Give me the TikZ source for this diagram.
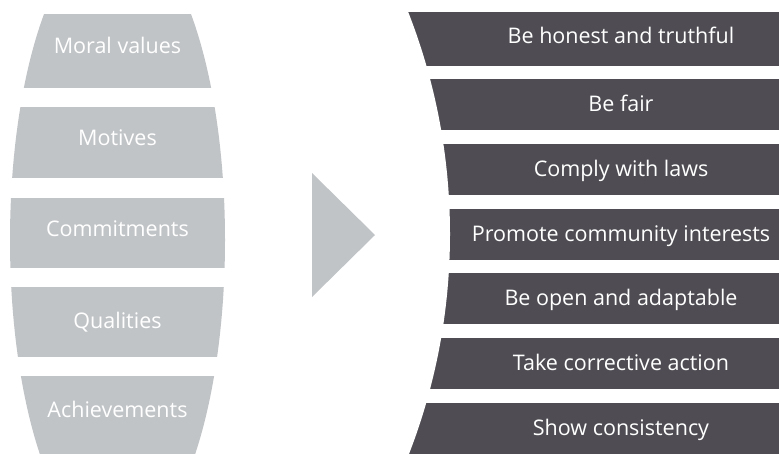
\documentclass[tikz,border=0pt]{standalone}
\usepackage{fontspec}
\setmainfont{Open Sans}
\definecolor{lightgrey}{HTML}{C1C4C7}
\definecolor{darkgrey}{HTML}{4F4D53}
\tikzset{
  barrel/.style={fill=lightgrey},
  bar/.style={fill=darkgrey},
  lbl/.style={text=white, inner sep=0pt, font=\fontsize{21.5}{24}\selectfont,
    text height=0.72em, text depth=0pt},
}

\begin{document}
\begin{tikzpicture}[x=1pt,y=-1pt]
  \useasboundingbox (0,0) rectangle (779,453);
  % Dark bars on the right
  \foreach \t/\b in {12/66,79/130,144/195,209/260,273/324,338/389,403/460}
    \fill[bar] (390,\t) rectangle (785,\b);
  % Round cut on their left ends
  \fill[white] (-158,234) circle[radius=608];
  % Barrel on the left
  \begin{scope}
    \clip (117.5,240) ellipse[x radius=107.5, y radius=309.6];
    \foreach \t/\b in {14/88,107/178,198/268,287/357,376/460}
      \fill[barrel] (0,\t) rectangle (240,\b);
  \end{scope}
  % Arrow head in between
  \fill[barrel] (312,173) -- (375,235) -- (312,297) -- cycle;
  % Labels
  \foreach \name/\y/\txt in {moral/50/Moral values, motives/142/Motives,
      commit/233/Commitments, qual/325/Qualities, achieve/414/Achievements}
    \node[lbl] (\name) at (117.5,\y) {\txt};
  \foreach \name/\y/\txt in {honest/40/Be honest and truthful, fair/107.5/Be fair,
      laws/172.5/Comply with laws, community/237.5/Promote community interests,
      open/301.5/Be open and adaptable, action/366.5/Take corrective action,
      consist/431.5/Show consistency}
    \node[lbl] (\name) at (621,\y) {\txt};
\end{tikzpicture}
\end{document}
